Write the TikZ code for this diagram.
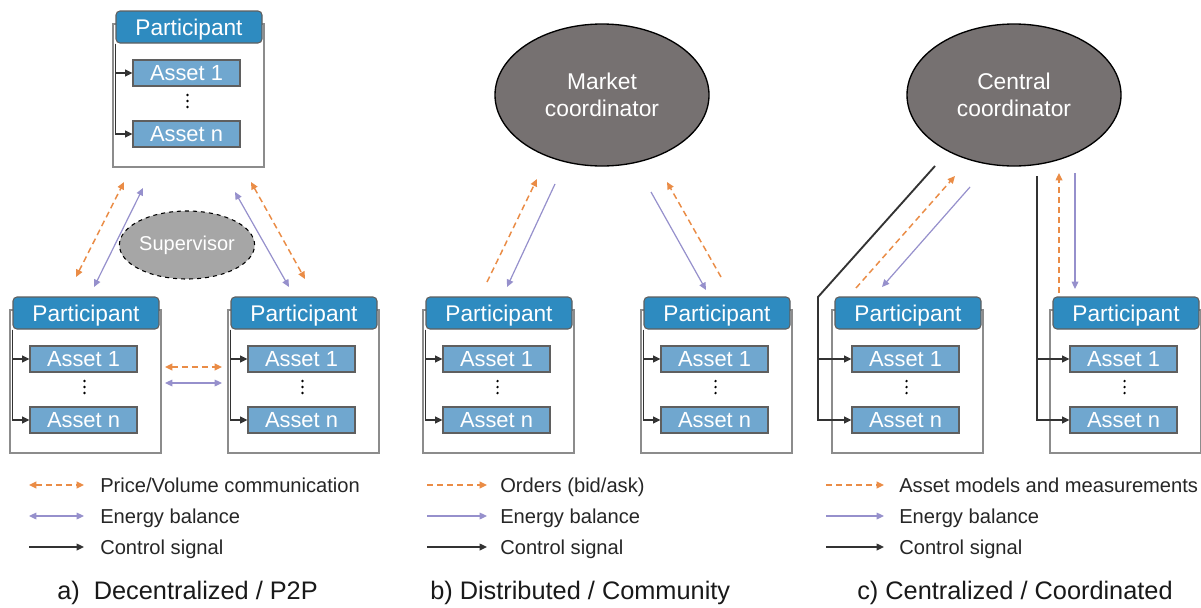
\documentclass[tikz,border=0pt]{standalone}
\usepackage{fontspec}
\setmainfont{Liberation Sans}
\usetikzlibrary{arrows.meta,shapes.geometric}

\definecolor{headblue}{RGB}{46,139,192}
\definecolor{assetblue}{RGB}{112,167,207}
\definecolor{rimgray}{RGB}{95,95,95}
\definecolor{framegray}{RGB}{140,140,140}
\definecolor{coordgray}{RGB}{118,113,113}
\definecolor{supgray}{RGB}{166,166,166}
\definecolor{msgorange}{RGB}{234,140,70}
\definecolor{enpurple}{RGB}{150,144,204}
\definecolor{ctrlblack}{RGB}{51,51,51}

\tikzset{
  frame/.style={draw=framegray, line width=1pt, fill=white,
    minimum width=113.25pt, minimum height=107.25pt, inner sep=0pt},
  head/.style={draw=rimgray, line width=0.8pt, fill=headblue, rounded corners=3pt,
    minimum width=109.5pt, minimum height=24pt, inner sep=0pt, text=white,
    text height=12.2pt, text depth=0pt,
    font=\fontsize{17}{20}\selectfont},
  asset/.style={draw=rimgray, line width=0.8pt, fill=assetblue,
    minimum width=80.25pt, minimum height=19.5pt, inner sep=0pt, text=white,
    text height=11.7pt, text depth=0pt,
    font=\fontsize{16.4}{19}\selectfont},
  coordnode/.style={ellipse, draw=black, line width=1pt, fill=coordgray,
    minimum width=160.5pt, minimum height=106.5pt, inner sep=0pt, text=white,
    align=center, font=\fontsize{17.1}{20.25}\selectfont},
  supnode/.style={ellipse, draw=black, dashed, line width=0.8pt, fill=supgray,
    minimum width=75pt, minimum height=51pt, inner sep=0pt, text=white,
    font=\fontsize{15}{17}\selectfont},
  ctrl/.style={draw=ctrlblack, line width=1.4pt, -{Triangle[length=5.5pt,width=5pt]}},
  msg/.style={draw=msgorange, line width=1.1pt, dash pattern=on 4.5pt off 3pt,
    -{Triangle[length=5.5pt,width=5pt]}},
  msgboth/.style={msg, {Triangle[length=5.5pt,width=5pt]}-{Triangle[length=5.5pt,width=5pt]}},
  energy/.style={draw=enpurple, line width=0.9pt, -{Triangle[length=5.5pt,width=5pt]}},
  energyboth/.style={energy, {Triangle[length=5.5pt,width=5pt]}-{Triangle[length=5.5pt,width=5pt]}},
  legtext/.style={anchor=west, inner sep=0pt, text=black!85,
    text height=10.8pt, text depth=0pt, font=\fontsize{15.1}{18}\selectfont},
  captext/.style={anchor=west, inner sep=0pt, text=black!90,
    text height=13.6pt, text depth=0pt, font=\fontsize{19}{23}\selectfont},
}

% participant block: #1 name prefix, #2 left of header, #3 top of header
\newcommand{\partblock}[3]{%
  \node[frame] (#1f) at (#2+72.5, #3+84.5) {};
  \node[head]  (#1h) at (#2+73, #3+16) {Participant};
  \node[asset] (#1a) at (#2+70.5, #3+62) {Asset 1};
  \node[asset] (#1n) at (#2+70.5, #3+123) {Asset n};
  \fill[black] (#2+71.5, #3+84) circle[radius=0.95pt]
               (#2+71.5, #3+90) circle[radius=0.95pt]
               (#2+71.5, #3+96) circle[radius=0.95pt];
}
% control lines running down the left edge of a block
\newcommand{\innerctrl}[1]{%
  \draw[ctrl] (#1h.south west) |- (#1a.west);
  \draw[ctrl] (#1h.south west) |- (#1n.west);
}

\begin{document}
\begin{tikzpicture}[x=0.75pt,y=-0.75pt]
  \fill[white] (0,0) rectangle (1201,607);
  \useasboundingbox (0,0) rectangle (1201,607);

  % ---------- a) decentralized ----------
  \partblock{aT}{116}{11}
  \innerctrl{aT}
  \partblock{aL}{13}{297}
  \innerctrl{aL}
  \partblock{aR}{231}{297}
  \innerctrl{aR}
  \node[supnode] (sup) at (187,245) {Supervisor};

  \coordinate (a1s) at (76,277);  \coordinate (a1e) at (124,182);
  \coordinate (a2s) at (94,287);  \coordinate (a2e) at (143,188);
  \coordinate (a3s) at (235,192); \coordinate (a3e) at (289,287);
  \coordinate (a4s) at (251,182); \coordinate (a4e) at (305,279);
  \coordinate (a5s) at (165,367); \coordinate (a5e) at (222,367);
  \coordinate (a6s) at (165,383); \coordinate (a6e) at (222,383);
  \draw[msgboth] (a1s) -- (a1e);
  \draw[energyboth] (a2s) -- (a2e);
  \draw[energyboth] (a3s) -- (a3e);
  \draw[msgboth] (a4s) -- (a4e);
  \draw[msgboth] (a5s) -- (a5e);
  \draw[energyboth] (a6s) -- (a6e);

  % ---------- b) distributed ----------
  \node[coordnode] (mkt) at (602,95) {Market\\coordinator};
  \partblock{bL}{426}{297}
  \innerctrl{bL}
  \partblock{bR}{644}{297}
  \innerctrl{bR}

  \coordinate (b1s) at (487,282); \coordinate (b1e) at (537,179);
  \coordinate (b2s) at (555,184); \coordinate (b2e) at (507,287);
  \coordinate (b3s) at (651,192); \coordinate (b3e) at (706,290);
  \coordinate (b4s) at (721,277); \coordinate (b4e) at (667,182);
  \draw[msg] (b1s) -- (b1e);
  \draw[energy] (b2s) -- (b2e);
  \draw[energy] (b3s) -- (b3e);
  \draw[msg] (b4s) -- (b4e);

  % ---------- c) centralized ----------
  \node[coordnode] (cen) at (1014,95) {Central\\coordinator};
  \partblock{cL}{835}{297}
  \partblock{cR}{1053}{297}

  \coordinate (c1s) at (935,166); \coordinate (c1k) at (818,297);
  \draw[ctrl] (c1s) -- (c1k) |- (cLn.west);
  \draw[ctrl] (c1k |- cLa.west) -- (cLa.west);
  \coordinate (c2s) at (1037,176);
  \draw[ctrl] (c2s) |- (cRn.west);
  \draw[ctrl] (c2s |- cRa.west) -- (cRa.west);

  \coordinate (c3s) at (856,288);  \coordinate (c3e) at (955,176);
  \coordinate (c4s) at (970,187);  \coordinate (c4e) at (882,287);
  \coordinate (c5s) at (1059,293); \coordinate (c5e) at (1059,173);
  \coordinate (c6s) at (1075,173); \coordinate (c6e) at (1075,289);
  \draw[msg] (c3s) -- (c3e);
  \draw[energy] (c4s) -- (c4e);
  \draw[msg] (c5s) -- (c5e);
  \draw[energy] (c6s) -- (c6e);

  % ---------- legends ----------
  \node[legtext] (la1) at (100,485) {Price/Volume communication};
  \node[legtext] (la2) at (100,516) {Energy balance};
  \node[legtext] (la3) at (100,547) {Control signal};
  \coordinate (la1s) at (29,485); \coordinate (la1e) at (84,485);
  \coordinate (la2s) at (29,516); \coordinate (la2e) at (84,516);
  \coordinate (la3s) at (29,547); \coordinate (la3e) at (84,547);
  \draw[msgboth] (la1s) -- (la1e);
  \draw[energyboth] (la2s) -- (la2e);
  \draw[ctrl, line width=1pt] (la3s) -- (la3e);

  \node[legtext] (lb1) at (500,485) {Orders (bid/ask)};
  \node[legtext] (lb2) at (500,516) {Energy balance};
  \node[legtext] (lb3) at (500,547) {Control signal};
  \coordinate (lb1s) at (427,485); \coordinate (lb1e) at (487,485);
  \coordinate (lb2s) at (427,516); \coordinate (lb2e) at (487,516);
  \coordinate (lb3s) at (427,547); \coordinate (lb3e) at (487,547);
  \draw[msg] (lb1s) -- (lb1e);
  \draw[energy] (lb2s) -- (lb2e);
  \draw[ctrl, line width=1pt] (lb3s) -- (lb3e);

  \node[legtext] (lc1) at (899,485) {Asset models and measurements};
  \node[legtext] (lc2) at (899,516) {Energy balance};
  \node[legtext] (lc3) at (899,547) {Control signal};
  \coordinate (lc1s) at (826,485); \coordinate (lc1e) at (884,485);
  \coordinate (lc2s) at (826,516); \coordinate (lc2e) at (884,516);
  \coordinate (lc3s) at (826,547); \coordinate (lc3e) at (884,547);
  \draw[msg] (lc1s) -- (lc1e);
  \draw[energy] (lc2s) -- (lc2e);
  \draw[ctrl, line width=1pt] (lc3s) -- (lc3e);

  % ---------- captions ----------
  \node[captext] (capa) at (57,590) {a)\ \ Decentralized / P2P};
  \node[captext] (capb) at (430,590) {b) Distributed / Community};
  \node[captext] (capc) at (857,590) {c) Centralized / Coordinated};
\end{tikzpicture}
\end{document}
